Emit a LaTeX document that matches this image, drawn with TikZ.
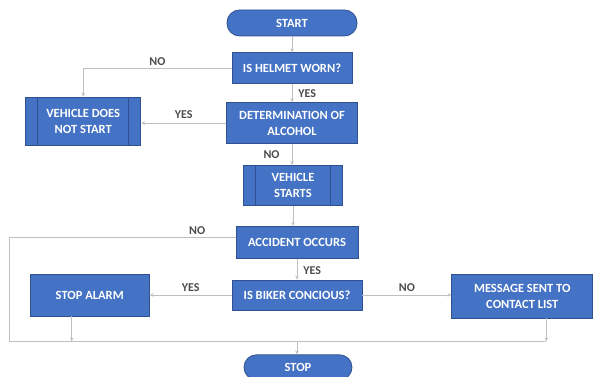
\documentclass[tikz,border=0pt]{standalone}
\usepackage{fontspec}
\setmainfont{Carlito}
\usepackage{xcolor}
\usetikzlibrary{arrows.meta,positioning,calc}

\definecolor{boxfill}{HTML}{4472C4}
\definecolor{boxedge}{HTML}{2F528F}
\definecolor{connector}{HTML}{BFBFBF}

\begin{document}
\begin{tikzpicture}[
    box/.style={draw=boxedge, fill=boxfill, line width=0.8pt, align=center, text=white, inner sep=2pt,
        font=\fontsize{12.5}{16}\selectfont\bfseries},
    term/.style={box, rounded corners=12.5pt},
    proc/.style={box, path picture={
        \draw[boxedge, line width=0.8pt]
          ([xshift=12pt]path picture bounding box.north west) -- ([xshift=12pt]path picture bounding box.south west)
          ([xshift=-12pt]path picture bounding box.north east) -- ([xshift=-12pt]path picture bounding box.south east);}},
    line/.style={draw=connector, line width=0.9pt},
    arr/.style={line, -{Stealth[length=4pt, width=3.5pt]}},
    lbl/.style={font=\fontsize{12}{14}\selectfont\bfseries, text=black!70, inner sep=2pt},
]
\useasboundingbox (0,0) rectangle (595pt,-377pt);

% Main column
\node[term, minimum width=130pt, minimum height=26pt] (start) at (292pt,-23pt) {START};
\node[box, minimum width=120pt, minimum height=31pt, below=16pt of start] (helmet) {IS HELMET WORN?};
\node[box, minimum width=131pt, minimum height=41pt, below=18pt of helmet] (alcohol) {DETERMINATION OF\\ALCOHOL};
\node[proc, minimum width=99pt, minimum height=40pt, below=21pt of alcohol, xshift=1pt] (vstarts) {VEHICLE\\STARTS};
\node[box, minimum width=122pt, minimum height=32pt, below=20pt of vstarts, xshift=4pt] (accident) {ACCIDENT OCCURS};
\node[box, minimum width=130pt, minimum height=30pt, below=21pt of accident] (biker) {IS BIKER CONCIOUS?};
\node[term, minimum width=108pt, minimum height=25pt, below=44pt of biker, xshift=1pt] (stop) {STOP};

% Side boxes
\node[proc, minimum width=115pt, minimum height=48pt, left=85pt of alcohol, yshift=2pt] (nostart) {VEHICLE DOES\\NOT START};
\node[box, minimum width=119pt, minimum height=42pt, left=82pt of biker] (alarm) {STOP ALARM};
\node[box, minimum width=141pt, minimum height=44pt, right=89pt of biker, yshift=-1pt] (message) {MESSAGE SENT TO\\CONTACT LIST};

% Helper points
\coordinate[left=226pt of accident.west] (loop);
\coordinate[below=31pt of biker.south] (bus);

% Arrows
\draw[arr] (start) -- (helmet);
\draw[arr] (helmet) -- node[lbl, right, xshift=4pt] {YES} (alcohol);
\draw[arr] (helmet.west) -| node[lbl, above, pos=0.25] {NO} (nostart.north);
\draw[arr] (alcohol.west) -- node[lbl, above, yshift=2pt] {YES} (alcohol.west -| nostart.east);
\draw[arr] (alcohol) -- node[lbl, left, xshift=-10pt] {NO} (vstarts.north -| alcohol);
\draw[arr] (vstarts) -- (vstarts |- accident.north);
\draw[arr] (accident) -- node[lbl, right, xshift=4pt, yshift=-2pt] {YES} (accident |- biker.north);
\draw[arr] (biker.west) -- node[lbl, above, yshift=1pt] {YES} (alarm.east);
\draw[arr] (biker.east) -- node[lbl, above, yshift=1pt] {NO} (message.west |- biker.east);

% Return bus
\draw[line] ([yshift=5pt]accident.west) -- node[lbl, above, pos=0.17] {NO} ([yshift=5pt]loop) |- ([xshift=24pt]message.south |- bus);
\draw[arr] ([xshift=-18pt]alarm.south) -- ([xshift=-18pt]alarm.south |- bus);
\draw[arr] ([xshift=24pt]message.south) -- ([xshift=24pt]message.south |- bus);
\draw[arr] (bus) -- (bus |- stop.north);
\end{tikzpicture}
\end{document}
